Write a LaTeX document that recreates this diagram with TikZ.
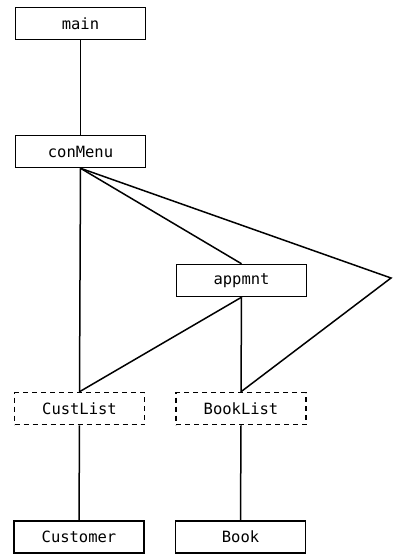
\documentclass[tikz,border=0pt]{standalone}
\usepackage{fontspec}
\setmonofont{DejaVu Sans Mono}
\begin{document}
\begin{tikzpicture}[x=1pt,y=-1pt,
  box/.style={draw, line width=1.5pt, minimum width=130pt, minimum height=32pt, inner sep=0pt, font=\ttfamily\fontsize{15.5}{15.5}\selectfont},
  dbox/.style={box, dashed, dash pattern=on 5pt off 4pt},
  conn/.style={line width=1.5pt}]
\useasboundingbox (0,0) rectangle (392,554);
\node[box] (main) at (80.5,23.5) {main};
\node[box] (con) at (80.5,151.5) {conMenu};
\node[box] (app) at (241.5,280.5) {appmnt};
\node[dbox] (cust) at (79.5,408.5) {CustList};
\node[dbox] (bl) at (241,408.5) {BookList};
\node[box] (cu) at (79,537) {Customer};
\node[box] (bk) at (240.5,537) {Book};
\coordinate (r) at (391,278);
\draw[conn] (main.south) -- (con.north);
\draw[conn] (con.south) -- (cust.north);
\draw[conn] (con.south) -- (app.north);
\draw[conn] (con.south) -- (r) -- (bl.north);
\draw[conn] (app.south) -- (cust.north);
\draw[conn] (app.south) -- (bl.north);
\draw[conn] (cust.south) -- (cu.north);
\draw[conn] (bl.south) -- (bk.north);
\end{tikzpicture}
\end{document}
